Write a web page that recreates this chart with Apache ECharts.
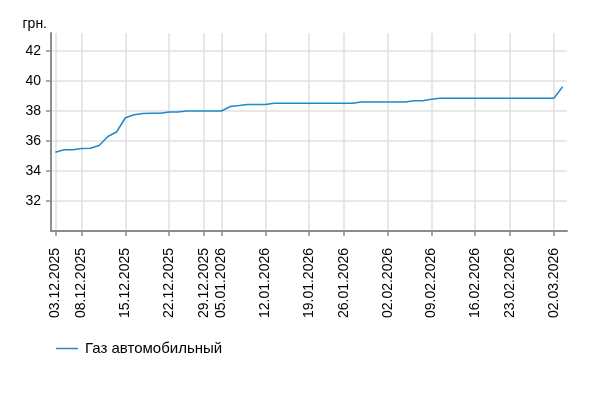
<!DOCTYPE html>
<html>
<head>
<meta charset="utf-8">
<script src="https://cdn.jsdelivr.net/npm/echarts@6/dist/echarts.min.js"></script>
<style>
html,body{margin:0;padding:0;background:#fff;}
#chart{width:603px;height:399px;}
</style>
</head>
<body>
<div id="chart"></div>
<script>
const dates = [
  '03.12.2025','04.12.2025','05.12.2025','08.12.2025','09.12.2025','10.12.2025','11.12.2025','12.12.2025',
  '15.12.2025','16.12.2025','17.12.2025','18.12.2025','19.12.2025','22.12.2025','23.12.2025','24.12.2025',
  '26.12.2025','29.12.2025','30.12.2025',
  '05.01.2026','06.01.2026','07.01.2026','08.01.2026','09.01.2026','12.01.2026','13.01.2026','14.01.2026',
  '15.01.2026','16.01.2026','19.01.2026','20.01.2026','21.01.2026','23.01.2026','26.01.2026','27.01.2026',
  '28.01.2026','29.01.2026','30.01.2026',
  '02.02.2026','03.02.2026','04.02.2026','05.02.2026','06.02.2026','09.02.2026','10.02.2026','11.02.2026',
  '12.02.2026','13.02.2026','16.02.2026','17.02.2026','18.02.2026','19.02.2026','23.02.2026','24.02.2026',
  '25.02.2026','26.02.2026','27.02.2026',
  '02.03.2026','03.03.2026'
];
const gasValues = [
  35.25, 35.42, 35.42, 35.5, 35.52, 35.7, 36.3, 36.6,
  37.55, 37.75, 37.83, 37.85, 37.85, 37.93, 37.93, 38.0,
  38.0, 38.0, 38.0,
  38.0, 38.3, 38.36, 38.43, 38.43, 38.43, 38.52, 38.52,
  38.52, 38.52, 38.52, 38.52, 38.52, 38.52, 38.52, 38.52,
  38.6, 38.6, 38.6,
  38.6, 38.6, 38.6, 38.68, 38.68, 38.78, 38.85, 38.85,
  38.85, 38.85, 38.85, 38.85, 38.85, 38.85, 38.85, 38.85,
  38.85, 38.85, 38.85,
  38.85, 39.62
];
const tickLabels = [
  '03.12.2025','08.12.2025','15.12.2025','22.12.2025','29.12.2025','05.01.2026','12.01.2026',
  '19.01.2026','26.01.2026','02.02.2026','09.02.2026','16.02.2026','23.02.2026','02.03.2026'
];
const seriesName = 'Газ автомобильный';
const yMin = 30, yMax = 43.2, yStep = 2;

const labelSet = new Set(tickLabels);
const showAt = (i, v) => labelSet.has(v);
const FONT = '"Liberation Sans", Arial, sans-serif';
const axisColor = '#8c8c8c';
const gridColor = '#e0e0e0';
const lineColor = '#2188c9';

const chart = echarts.init(document.getElementById('chart'), null, {renderer: 'canvas'});
chart.setOption({
  animation: false,
  backgroundColor: '#fff',
  textStyle: {fontFamily: FONT},
  grid: {left: 51, right: 36, top: 33, bottom: 168, containLabel: false},
  legend: {
    data: [{name: seriesName, icon: 'rect'}],
    left: 56, top: 341, padding: 0,
    itemWidth: 22, itemHeight: 1.5,
    itemStyle: {color: lineColor},
    textStyle: {fontSize: 15, color: '#000', fontFamily: FONT, padding: [0, 0, 0, 2]}
  },
  xAxis: {
    type: 'category',
    data: dates,
    boundaryGap: true,
    axisLine: {show: true, lineStyle: {color: axisColor, width: 2}},
    axisTick: {show: true, alignWithLabel: true, interval: showAt, length: 5, lineStyle: {color: axisColor, width: 1.5}},
    axisLabel: {interval: showAt, rotate: 90, fontSize: 14, color: '#000', margin: 17, fontFamily: FONT},
    splitLine: {show: true, interval: showAt, alignWithLabel: true, lineStyle: {color: gridColor, width: 1.5}}
  },
  yAxis: {
    type: 'value',
    min: yMin, max: yMax, interval: yStep,
    name: 'грн.',
    nameLocation: 'end',
    nameGap: 9,
    nameTextStyle: {align: 'right', verticalAlign: 'middle', padding: [0, 4, 0, 0], fontSize: 14, color: '#000', fontFamily: FONT},
    axisLine: {show: true, lineStyle: {color: axisColor, width: 2}},
    axisTick: {show: true, length: 5, lineStyle: {color: axisColor, width: 1.5}},
    axisLabel: {showMinLabel: false, showMaxLabel: false, margin: 10, fontSize: 14, color: '#000', fontFamily: FONT},
    splitLine: {show: true, showMinLine: false, showMaxLine: false, lineStyle: {color: gridColor, width: 1.5}}
  },
  series: [{
    name: seriesName,
    type: 'line',
    data: gasValues,
    symbol: 'none',
    smooth: false,
    lineStyle: {color: lineColor, width: 1.5},
    itemStyle: {color: lineColor}
  }]
});
</script>
</body>
</html>
